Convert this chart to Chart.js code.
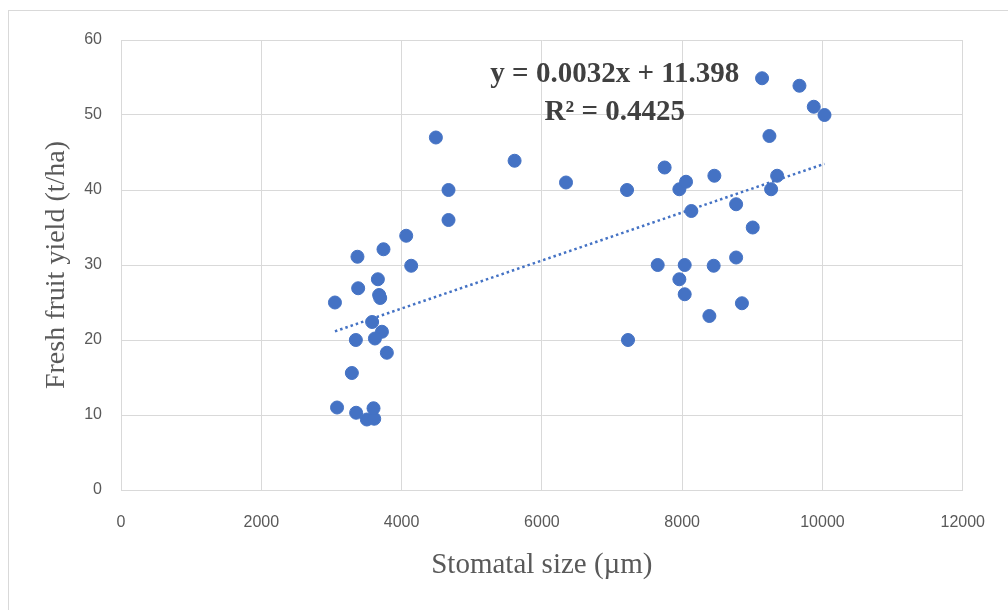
<!DOCTYPE html>
<html><head><meta charset="utf-8">
<script src="https://cdn.jsdelivr.net/npm/chart.js@4/dist/chart.umd.min.js"></script>
<style>html,body{margin:0;padding:0;background:#fff;}#wrap{width:1008px;height:610px;position:relative;}</style>
</head><body><div id="wrap"><canvas id="c" width="1008" height="610"></canvas></div>
<script>
const stomatalSize = [3050,3080,3371,3381,3348,3291,3352,3505,3610,3600,3662,3680,3695,3742,4066,4137,3580,3720,3620,3790,4489,4669,4669,5611,6344,7214,7228,7651,7750,7960,8055,8131,7960,8036,8036,8388,8449,8459,8769,8769,8852,9006,9139,9244,9268,9354,9672,9876,10029];
const fruitYield   = [25,11,31.1,26.9,20,15.6,10.3,9.4,9.5,10.9,28.1,26,25.6,32.1,33.9,29.9,22.4,21.1,20.2,18.3,47,40,36,43.9,41,40,20,30,43,40.1,41.1,37.2,28.1,30,26.1,23.2,29.9,41.9,38.1,31,24.9,35,54.9,47.2,40.1,41.9,53.9,51.1,50];
const trendSlope = 0.0032, trendIntercept = 11.398;
const equationText = "y = 0.0032x + 11.398";
const r2Text = "R² = 0.4425";
const xTitle = "Stomatal size (µm)";
const yTitle = "Fresh fruit yield (t/ha)";

const points = stomatalSize.map((x,i)=>({x:x,y:fruitYield[i]}));
const xMin = Math.min(...stomatalSize), xMax = Math.max(...stomatalSize);
const trend = [xMin, xMax].map(x=>({x:x, y:trendSlope*x+trendIntercept}));

const frame = {id:'frame', beforeDraw(c){const g=c.ctx;g.save();g.fillStyle='#fff';g.fillRect(0,0,c.width,c.height);g.strokeStyle='#d9d9d9';g.lineWidth=1;g.strokeRect(8.5,10.5,1005,605);g.restore();}};
const note = {id:'note', afterDraw(c){const g=c.ctx;const xs=c.scales.x, ys=c.scales.y;g.save();g.fillStyle='#404040';g.textAlign='center';g.textBaseline='middle';g.font='bold 29px "Liberation Serif", serif';const cx=xs.getPixelForValue(7040);g.fillText(equationText,cx,ys.getPixelForValue(55.4));g.fillText(r2Text,cx,ys.getPixelForValue(50.3));g.restore();}};

new Chart(document.getElementById('c'),{
  type:'scatter',
  data:{datasets:[
    {data:points, backgroundColor:'#4472C4', borderColor:'#4472C4', pointRadius:6.5, pointHoverRadius:6.5, order:2},
    {type:'line', data:trend, borderColor:'#4472C4', borderWidth:2.5, borderDash:[2.5,3], pointRadius:0, fill:false, order:1}
  ]},
  options:{responsive:false, animation:false, devicePixelRatio:1,
    layout:{padding:{left:0,right:45,top:40,bottom:0}},
    plugins:{legend:{display:false},tooltip:{enabled:false}},
    scales:{
      x:{type:'linear',min:0,max:12000,
        ticks:{stepSize:2000,color:'#595959',font:{family:'"Liberation Sans",sans-serif',size:16},padding:23,maxRotation:0,callback:v=>String(v)},
        grid:{color:'#d9d9d9',drawTicks:false},border:{color:'#d9d9d9'},
        title:{display:true,text:xTitle,color:'#595959',font:{family:'"Liberation Serif",serif',size:29},padding:{top:4,bottom:27}},
        afterFit(s){s.height=120;}},
      y:{min:0,max:60,
        ticks:{stepSize:10,color:'#595959',font:{family:'"Liberation Sans",sans-serif',size:16},padding:19,callback:v=>String(v)},
        grid:{color:'#d9d9d9',drawTicks:false},border:{color:'#d9d9d9'},
        title:{display:true,text:yTitle,color:'#595959',font:{family:'"Liberation Serif",serif',size:28},padding:{top:40,bottom:4}},
        afterFit(s){s.width=121;}}
    }
  },
  plugins:[frame,note]
});
</script></body></html>
